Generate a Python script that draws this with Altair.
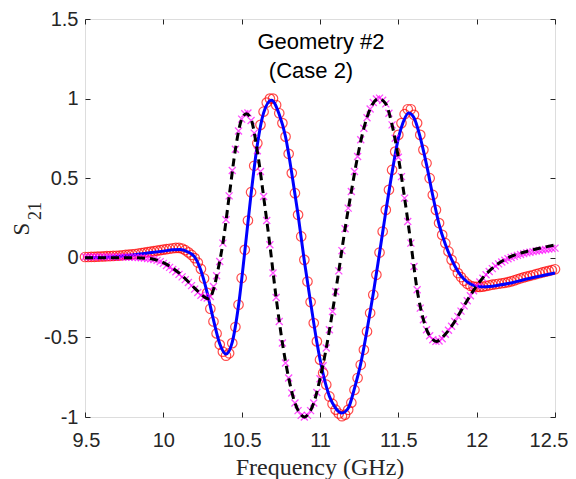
import altair as alt
import pandas as pd

# ---------------- data ----------------
FREQ = [
    9.50, 9.52, 9.54, 9.56, 9.58, 9.60, 9.62, 9.64, 9.66, 9.68,
    9.70, 9.72, 9.74, 9.76, 9.78, 9.80, 9.82, 9.84, 9.86, 9.88,
    9.90, 9.92, 9.94, 9.96, 9.98, 10.00, 10.02, 10.04, 10.06, 10.08,
    10.10, 10.12, 10.14, 10.16, 10.18, 10.20, 10.22, 10.24, 10.26, 10.28,
    10.30, 10.32, 10.34, 10.36, 10.38, 10.40, 10.42, 10.44, 10.46, 10.48,
    10.50, 10.52, 10.54, 10.56, 10.58, 10.60, 10.62, 10.64, 10.66, 10.68,
    10.70, 10.72, 10.74, 10.76, 10.78, 10.80, 10.82, 10.84, 10.86, 10.88,
    10.90, 10.92, 10.94, 10.96, 10.98, 11.00, 11.02, 11.04, 11.06, 11.08,
    11.10, 11.12, 11.14, 11.16, 11.18, 11.20, 11.22, 11.24, 11.26, 11.28,
    11.30, 11.32, 11.34, 11.36, 11.38, 11.40, 11.42, 11.44, 11.46, 11.48,
    11.50, 11.52, 11.54, 11.56, 11.58, 11.60, 11.62, 11.64, 11.66, 11.68,
    11.70, 11.72, 11.74, 11.76, 11.78, 11.80, 11.82, 11.84, 11.86, 11.88,
    11.90, 11.92, 11.94, 11.96, 11.98, 12.00, 12.02, 12.04, 12.06, 12.08,
    12.10, 12.12, 12.14, 12.16, 12.18, 12.20, 12.22, 12.24, 12.26, 12.28,
    12.30, 12.32, 12.34, 12.36, 12.38, 12.40, 12.42, 12.44, 12.46, 12.48,
    12.50,
]

# red circles
S21_CIRCLES = [
    0.005, 0.005, 0.006, 0.006, 0.007, 0.008, 0.009, 0.010, 0.011, 0.012,
    0.013, 0.014, 0.016, 0.018, 0.020, 0.022, 0.024, 0.027, 0.030, 0.033,
    0.036, 0.039, 0.042, 0.045, 0.048, 0.051, 0.054, 0.057, 0.060, 0.062,
    0.062, 0.058, 0.048, 0.034, 0.018, -0.002, -0.030, -0.070, -0.130, -0.220,
    -0.320, -0.400, -0.475, -0.545, -0.590, -0.615, -0.600, -0.536, -0.435, -0.295,
    -0.127, 0.050, 0.234, 0.412, 0.578, 0.720, 0.835, 0.918, 0.975, 1.000,
    1.000, 0.960, 0.908, 0.846, 0.761, 0.653, 0.532, 0.406, 0.270, 0.134,
    -0.013, -0.149, -0.278, -0.410, -0.525, -0.640, -0.724, -0.797, -0.871, -0.918,
    -0.954, -0.978, -0.995, -0.985, -0.955, -0.910, -0.830, -0.755, -0.672, -0.578,
    -0.463, -0.347, -0.232, -0.107, 0.033, 0.165, 0.301, 0.427, 0.552, 0.667,
    0.772, 0.846, 0.902, 0.933, 0.933, 0.898, 0.846, 0.772, 0.678, 0.594,
    0.500, 0.395, 0.301, 0.218, 0.144, 0.092, 0.040, -0.013, -0.055, -0.096,
    -0.121, -0.144, -0.163, -0.176, -0.181, -0.183, -0.183, -0.181, -0.177, -0.173,
    -0.169, -0.166, -0.163, -0.160, -0.157, -0.153, -0.148, -0.142, -0.135, -0.129,
    -0.123, -0.118, -0.113, -0.108, -0.102, -0.097, -0.092, -0.087, -0.082, -0.077,
    -0.072,
]

# magenta crosses
S21_CROSSES = [
    0.006, 0.006, 0.006, 0.006, 0.006, 0.006, 0.006, 0.006, 0.006, 0.006,
    0.006, 0.006, 0.006, 0.005, 0.005, 0.004, 0.003, 0.002, 0.000, -0.002,
    -0.004, -0.007, -0.011, -0.016, -0.024, -0.035, -0.048, -0.060, -0.073, -0.088,
    -0.104, -0.120, -0.137, -0.155, -0.175, -0.197, -0.218, -0.235, -0.248, -0.253,
    -0.243, -0.180, -0.113, -0.023, 0.092, 0.239, 0.389, 0.548, 0.682, 0.797,
    0.871, 0.905, 0.910, 0.862, 0.783, 0.672, 0.542, 0.385, 0.234, 0.082,
    -0.096, -0.249, -0.400, -0.535, -0.661, -0.755, -0.849, -0.912, -0.960, -0.990,
    -1.000, -0.990, -0.960, -0.912, -0.846, -0.760, -0.678, -0.567, -0.452, -0.337,
    -0.212, -0.082, 0.045, 0.182, 0.312, 0.416, 0.542, 0.636, 0.741, 0.814,
    0.880, 0.935, 0.975, 0.998, 1.003, 0.990, 0.967, 0.908, 0.835, 0.751,
    0.632, 0.510, 0.375, 0.228, 0.092, -0.055, -0.201, -0.316, -0.389, -0.452,
    -0.490, -0.515, -0.525, -0.523, -0.508, -0.480, -0.455, -0.430, -0.400, -0.368,
    -0.335, -0.302, -0.270, -0.238, -0.207, -0.178, -0.152, -0.128, -0.106, -0.086,
    -0.068, -0.052, -0.038, -0.026, -0.015, -0.006, 0.002, 0.009, 0.015, 0.021,
    0.026, 0.031, 0.035, 0.039, 0.043, 0.046, 0.049, 0.052, 0.055, 0.058,
    0.061,
]

# blue solid line
LINE_A_FREQ = [9.50, 9.70, 9.90, 10.00, 10.06, 10.11, 10.16, 10.20, 10.24, 10.28,
               10.32, 10.36, 10.40, 10.44, 10.48, 10.52, 10.56, 10.60, 10.64, 10.69,
               10.74, 10.78, 10.82, 10.86, 10.90, 10.94, 10.98, 11.02, 11.06, 11.10,
               11.14, 11.18, 11.22, 11.26, 11.30, 11.34, 11.38, 11.42, 11.46, 11.50,
               11.53, 11.565, 11.60, 11.64, 11.68, 11.72, 11.76, 11.80, 11.84, 11.88,
               11.92, 11.96, 12.02, 12.10, 12.20, 12.30, 12.40, 12.50]
LINE_A = [0.000, 0.008, 0.030, 0.042, 0.050, 0.052, 0.035, 0.005, -0.080, -0.220,
          -0.390, -0.540, -0.605, -0.530, -0.300, 0.040, 0.400, 0.710, 0.910, 0.990,
          0.900, 0.760, 0.530, 0.270, -0.020, -0.280, -0.530, -0.730, -0.870, -0.945,
          -0.975, -0.945, -0.820, -0.665, -0.455, -0.225, 0.030, 0.290, 0.535, 0.750,
          0.850, 0.910, 0.880, 0.755, 0.585, 0.390, 0.210, 0.085, -0.010, -0.085,
          -0.135, -0.165, -0.182, -0.178, -0.162, -0.138, -0.116, -0.095]

# black dashed line
LINE_B_FREQ = [9.50, 9.80, 9.90, 10.00, 10.10, 10.20, 10.26, 10.29, 10.32, 10.35,
               10.38, 10.42, 10.46, 10.50, 10.53, 10.56, 10.60, 10.64, 10.68, 10.72,
               10.76, 10.80, 10.84, 10.87, 10.90, 10.93, 10.96, 11.00, 11.04, 11.08,
               11.12, 11.16, 11.20, 11.24, 11.28, 11.32, 11.375, 11.42, 11.46, 11.50,
               11.54, 11.58, 11.62, 11.66, 11.70, 11.745, 11.80, 11.86, 11.92, 11.98,
               12.04, 12.10, 12.20, 12.30, 12.40, 12.50]
LINE_B = [0.000, 0.000, -0.003, -0.030, -0.095, -0.190, -0.245, -0.258, -0.200, -0.070,
          0.090, 0.385, 0.680, 0.870, 0.905, 0.870, 0.670, 0.385, 0.080, -0.250,
          -0.535, -0.755, -0.912, -0.975, -1.000, -0.975, -0.912, -0.760, -0.567, -0.337,
          -0.082, 0.182, 0.416, 0.636, 0.814, 0.935, 1.000, 0.967, 0.835, 0.632,
          0.375, 0.092, -0.201, -0.389, -0.490, -0.525, -0.480, -0.400, -0.300, -0.205,
          -0.125, -0.065, 0.000, 0.035, 0.060, 0.080]

X_TICKS = [9.5, 10, 10.5, 11, 11.5, 12, 12.5]
Y_TICKS = [-1, -0.5, 0, 0.5, 1, 1.5]

# ---------------- chart ----------------
SANS = "Liberation Sans"
SERIF = "Liberation Serif"
AXC = "#262626"

markers = pd.DataFrame({"f": FREQ, "a": S21_CIRCLES, "b": S21_CROSSES})
line_a = pd.DataFrame({"f": LINE_A_FREQ, "s": LINE_A})
line_b = pd.DataFrame({"f": LINE_B_FREQ, "s": LINE_B})

xs = alt.Scale(domain=[9.5, 12.5], nice=False, zero=False)
ys = alt.Scale(domain=[-1, 1.5], nice=False, zero=False)

common_axis = dict(offset=-5, tickSize=5, tickColor=AXC, tickWidth=1, domain=False,
                   grid=False, title=None)

ax_bottom = alt.Axis(orient="bottom", values=X_TICKS, labelFont=SANS, labelFontSize=20,
                     labelColor=AXC, labelPadding=13, labelFlush=True, labelFlushOffset=13,
                     labelOverlap=False, labelExpr="'' + datum.value", **common_axis)
ax_left = alt.Axis(orient="left", values=Y_TICKS, labelFont=SANS, labelFontSize=20,
                   labelColor=AXC, labelPadding=7, labelFlush=False, labelOverlap=False,
                   labelExpr="'' + datum.value", **common_axis)
ax_top = alt.Axis(orient="top", values=X_TICKS, labels=False, **common_axis)
ax_right = alt.Axis(orient="right", values=Y_TICKS, labels=False, **common_axis)

circles = alt.Chart(markers).mark_point(
    shape="circle", filled=False, color="#ff0000", size=90, strokeWidth=1.2
).encode(
    x=alt.X("f:Q", scale=xs, axis=ax_bottom),
    y=alt.Y("a:Q", scale=ys, axis=ax_left),
)

blue = alt.Chart(line_a).mark_line(
    color="#0000ff", strokeWidth=3, interpolate="monotone"
).encode(
    x=alt.X("f:Q", scale=xs, axis=None),
    y=alt.Y("s:Q", scale=ys, axis=None),
)

crosses = alt.Chart(markers).mark_point(
    shape="M-1,-1L1,1M1,-1L-1,1", filled=False, stroke="#ff00ff", size=49, strokeWidth=1.3
).encode(
    x=alt.X("f:Q", scale=xs, axis=ax_top),
    y=alt.Y("b:Q", scale=ys, axis=ax_right),
)

black = alt.Chart(line_b).mark_line(
    color="#000000", strokeWidth=3, strokeDash=[8, 5], interpolate="monotone"
).encode(
    x=alt.X("f:Q", scale=xs, axis=None),
    y=alt.Y("s:Q", scale=ys, axis=None),
)

def label(text, x, y, font, size, angle=0, baseline="alphabetic", color="#000000"):
    kw = dict(font=font, fontSize=size, align="center", baseline=baseline, color=color)
    if angle:
        kw["angle"] = angle
    return alt.Chart(pd.DataFrame({"t": [text]})).mark_text(**kw).encode(
        x=alt.value(x), y=alt.value(y), text="t:N"
    )

t1 = label("Geometry #2", 236, 30, SANS, 22)
t2 = label("(Case 2)", 226, 59, SANS, 22)
xt = label("Frequency (GHz)", 235, 456, SERIF, 24, color=AXC)
ys_s = label("S", -63, 210, SERIF, 23, angle=270, baseline="middle", color=AXC)
ys_sub = label("21", -49, 192, SERIF, 18, angle=270, baseline="middle", color=AXC)

chart = alt.layer(circles, blue, crosses, black, t1, t2, xt, ys_s, ys_sub).resolve_axis(
    x="independent", y="independent"
).properties(
    width=470,
    height=398,
    autosize=alt.AutoSizeParams(type="none"),
    padding={"left": 77, "top": 11, "right": 13, "bottom": 62},
).configure_view(
    stroke=AXC, strokeWidth=1
).configure(background="white")

chart.save("out.html", embed_options={"renderer": "svg", "actions": False})
